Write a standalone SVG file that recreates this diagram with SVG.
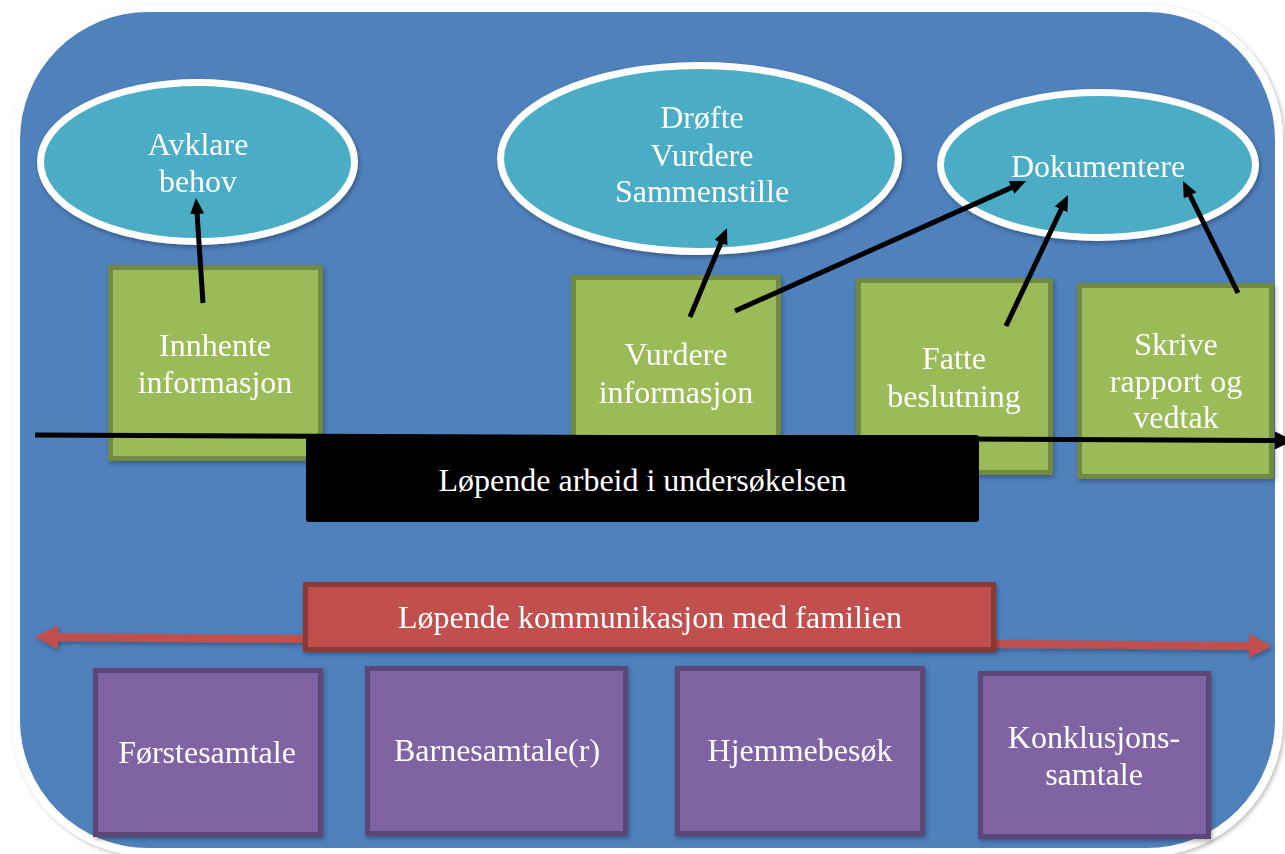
<svg xmlns="http://www.w3.org/2000/svg" width="1285" height="854" viewBox="0 0 1285 854">
<style>
text{font-family:"Liberation Serif","Times New Roman",serif;font-size:32px;fill:#ffffff;text-anchor:middle}
.ell{fill:#4BACC6;stroke:#ffffff;stroke-width:7}
.grn{fill:#9BBB59;stroke:#71893F;stroke-width:5}
.pur{fill:#8064A2;stroke:#5C4776;stroke-width:5}
.red{fill:#C0504D;stroke:#8C3836;stroke-width:5}
.arr{stroke:#000000;stroke-width:5;fill:none;marker-end:url(#ah)}
</style>
<defs>
<filter id="sh" x="-10%" y="-10%" width="125%" height="130%">
<feDropShadow dx="1.5" dy="2.5" stdDeviation="2" flood-color="#000000" flood-opacity="0.3"/>
</filter>
<filter id="lsh" filterUnits="userSpaceOnUse" x="0" y="600" width="1285" height="80">
<feDropShadow dx="1.5" dy="2.5" stdDeviation="2" flood-color="#000000" flood-opacity="0.3"/>
</filter>
<filter id="osh" x="-5%" y="-5%" width="110%" height="110%">
<feDropShadow dx="2" dy="2" stdDeviation="2" flood-color="#000000" flood-opacity="0.25"/>
</filter>
<marker id="ah" markerUnits="userSpaceOnUse" markerWidth="16" markerHeight="14" viewBox="0 0 16 14" refX="6" refY="7" orient="auto">
<path d="M0,0 L16,7 L0,14 z" fill="#000000"/>
</marker>
<marker id="bh" markerUnits="userSpaceOnUse" markerWidth="18" markerHeight="18" viewBox="0 0 18 18" refX="8" refY="9" orient="auto">
<path d="M0,0 L18,9 L0,18 z" fill="#000000"/>
</marker>
<marker id="rh" markerUnits="userSpaceOnUse" markerWidth="23" markerHeight="24" viewBox="0 0 23 24" refX="8" refY="12" orient="auto-start-reverse">
<path d="M0,0 L23,12 L0,24 z" fill="#C0504D"/>
</marker>
</defs>
<rect width="1285" height="854" fill="#ffffff"/>
<rect id="frame" x="16" y="8" width="1263" height="844" rx="132" ry="132" fill="#4F81BD" stroke="#ffffff" stroke-width="8" filter="url(#osh)"/>

<g id="n-avklare" filter="url(#sh)">
<ellipse class="ell" cx="197.5" cy="162" rx="157" ry="79.5"/>
<text x="198" y="155">Avklare</text>
<text x="198" y="192">behov</text>
</g>
<g id="n-drofte" filter="url(#sh)">
<ellipse class="ell" cx="699.5" cy="158.5" rx="199" ry="93"/>
<text x="702" y="128">Drøfte</text>
<text x="702" y="166">Vurdere</text>
<text x="702" y="202">Sammenstille</text>
</g>
<g id="n-dokumentere" filter="url(#sh)">
<ellipse class="ell" cx="1098" cy="165" rx="157.5" ry="72.5"/>
<text x="1098" y="177">Dokumentere</text>
</g>

<g id="n-innhente" filter="url(#sh)">
<rect class="grn" x="110.5" y="267.5" width="210" height="191"/>
<text x="215" y="356">Innhente</text>
<text x="215" y="393">informasjon</text>
</g>
<g id="n-vurdere" filter="url(#sh)">
<rect class="grn" x="573.5" y="277.5" width="205" height="190"/>
<text x="676" y="365">Vurdere</text>
<text x="676" y="403">informasjon</text>
</g>
<g id="n-fatte" filter="url(#sh)">
<rect class="grn" x="858.5" y="280.5" width="192" height="192"/>
<text x="954" y="369">Fatte</text>
<text x="954" y="407">beslutning</text>
</g>
<g id="n-skrive" filter="url(#sh)">
<rect class="grn" x="1079.5" y="285.5" width="192" height="191"/>
<text x="1176" y="355">Skrive</text>
<text x="1176" y="392">rapport og</text>
<text x="1176" y="428">vedtak</text>
</g>

<g id="n-arbeid">
<rect x="306" y="435" width="673" height="87" rx="3" fill="#000000"/>
<text x="642.5" y="491">Løpende arbeid i undersøkelsen</text>
</g>

<g id="connectors">
<path class="arr" d="M203,303 L196.7,208"/>
<path class="arr" d="M690,317 L723.2,237.2"/>
<path class="arr" d="M735,311 L1016.9,185.1"/>
<path class="arr" d="M1006,326 L1063.7,204"/>
<path class="arr" d="M1238,293 L1187.4,190"/>
<path d="M35,435 L1283,440.5" stroke="#000000" stroke-width="5" fill="none" marker-end="url(#bh)"/>
<path d="M50,637.1 L1257,645.9" stroke="#C0504D" stroke-width="8" fill="none" marker-start="url(#rh)" marker-end="url(#rh)" filter="url(#lsh)"/>
</g>

<g id="n-kommunikasjon" filter="url(#sh)">
<rect class="red" x="305.5" y="584.5" width="688" height="65"/>
<text x="650" y="628">Løpende kommunikasjon med familien</text>
</g>

<g id="n-forstesamtale" filter="url(#sh)">
<rect class="pur" x="95.5" y="670.5" width="225" height="164"/>
<text x="207" y="763">Førstesamtale</text>
</g>
<g id="n-barnesamtale" filter="url(#sh)">
<rect class="pur" x="367.5" y="668.5" width="258" height="165"/>
<text x="497" y="761">Barnesamtale(r)</text>
</g>
<g id="n-hjemmebesok" filter="url(#sh)">
<rect class="pur" x="677.5" y="668.5" width="245" height="165"/>
<text x="800" y="761">Hjemmebesøk</text>
</g>
<g id="n-konklusjon" filter="url(#sh)">
<rect class="pur" x="980.5" y="673.5" width="228" height="163"/>
<text x="1094" y="748">Konklusjons-</text>
<text x="1094" y="785">samtale</text>
</g>
</svg>
